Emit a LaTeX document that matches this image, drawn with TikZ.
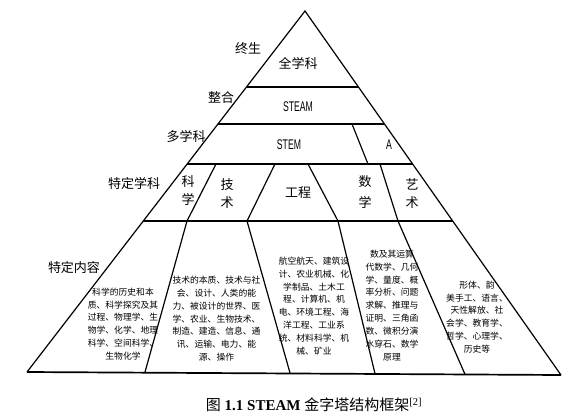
\documentclass[tikz,border=0pt]{standalone}
\usepackage{fontspec}
\setmainfont{Liberation Serif}
\newfontfamily\cjk{Noto Sans CJK SC}
\newfontfamily\narrowlat[FakeStretch=0.62]{Liberation Sans}
\begin{document}
\begin{tikzpicture}[x=1pt,y=-1pt,
  edge/.style={line width=1.2pt,black},
  baseedge/.style={line width=1.7pt,black},
  lab/.style={font=\cjk\fontsize{13}{13}\selectfont,inner sep=0pt},
  vlab/.style={font=\cjk\fontsize{13}{18}\selectfont,align=center,inner sep=0pt},
  lat/.style={font=\narrowlat\fontsize{14}{14}\selectfont,inner sep=0pt},
  blk/.style={font=\cjk\fontsize{8.8}{12.9}\selectfont,align=center,inner sep=0pt}]
\useasboundingbox (0,0) rectangle (579,418);
% pyramid corners
\coordinate (A) at (305,11);
\coordinate (BL) at (27,372);
\coordinate (BR) at (561,375);
% edge points of horizontal bands
\coordinate (L1) at (246.5,87);  \coordinate (R1) at (358.4,87);
\coordinate (L2) at (218,124);   \coordinate (R2) at (384.4,124);
\coordinate (L3) at (187.2,164); \coordinate (R3) at (412.6,164);
\coordinate (L4) at (143.3,221); \coordinate (R4) at (452.6,221);
% divider points
\coordinate (d1t) at (352,124); \coordinate (d1b) at (368,164);
\coordinate (r1t) at (216,164); \coordinate (r1m) at (187,221); \coordinate (r1b) at (145,372.1);
\coordinate (r2t) at (275,164); \coordinate (r2m) at (247,221); \coordinate (r2b) at (290,372.9);
\coordinate (r3t) at (308,164); \coordinate (r3m) at (338,221); \coordinate (r3b) at (375,373.6);
\coordinate (r4t) at (380,164); \coordinate (r4m) at (398,221); \coordinate (r4b) at (465,374.3);
% outline
\draw[edge] (BL) -- (A) -- (BR);
\draw[baseedge] (BL) -- (BR);
\draw[edge] (L1) -- (R1);
\draw[edge] (L2) -- (R2);
\draw[edge] (L3) -- (R3);
\draw[edge] (L4) -- (R4);
\draw[edge] (d1t) -- (d1b);
\draw[edge] (r1t) -- (r1m) -- (r1b);
\draw[edge] (r2t) -- (r2m) -- (r2b);
\draw[edge] (r3t) -- (r3m) -- (r3b);
\draw[edge] (r4t) -- (r4m) -- (r4b);
% left labels
\node[lab] (zs) at (248,49) {终生};
\node[lab] (zh) at (221,98) {整合};
\node[lab] (dxk) at (186,137) {多学科};
\node[lab] (tdxk) at (134,184) {特定学科};
\node[lab] (tdnr) at (74,268) {特定内容};
% band labels
\node[lab] (qxk) at (298,63) {全学科};
\node[lat] (steam) at (298,107) {STEAM};
\node[lat] (stem) at (289,145) {STEM};
\node[lat] (a) at (389,145) {A};
\node[vlab] (kx) at (188,191) {科\\学};
\node[vlab] (js) at (227,194) {技\\术};
\node[lab] (gc) at (298,193) {工程};
\node[vlab,font=\cjk\fontsize{13}{21}\selectfont] (sx) at (365,192.5) {数\\学};
\node[vlab] (ys) at (412,194) {艺\\术};
% content blocks
\node[blk] (b1) at (123,324) {科学的历史和本\\质、科学探究及其\\过程、物理学、生\\物学、化学、地理\\科学、空间科学、\\生物化学};
\node[blk] (b2) at (216.5,318.7) {技术的本质、技术与社\\会、设计、人类的能\\力、被设计的世界、医\\学、农业、生物技术、\\制造、建造、信息、通\\讯、运输、电力、能\\源、操作};
\node[blk] (b3) at (314,306) {航空航天、建筑设\\计、农业机械、化\\学制品、土木工\\程、计算机、机\\电、环境工程、海\\洋工程、工业系\\统、材料科学、机\\械、矿业};
\node[blk] (b4) at (392,305.5) {数及其运算\\代数学、几何\\学、量度、概\\率分析、问题\\求解、推理与\\证明、三角函\\数、微积分演\\水穿石、数学\\原理};
\node[blk] (b5) at (477,317) {形体、韵\\美手工、语言、\\天性解放、社\\会学、教育学、\\哲学、心理学、\\历史等};
% caption
\node[inner sep=0pt,font=\fontsize{15}{15}\selectfont] (cap) at (314,405) {{\cjk 图} \textbf{1.1 STEAM} {\cjk 金字塔结构框架}\textsuperscript{[2]}};
\end{tikzpicture}
\end{document}
